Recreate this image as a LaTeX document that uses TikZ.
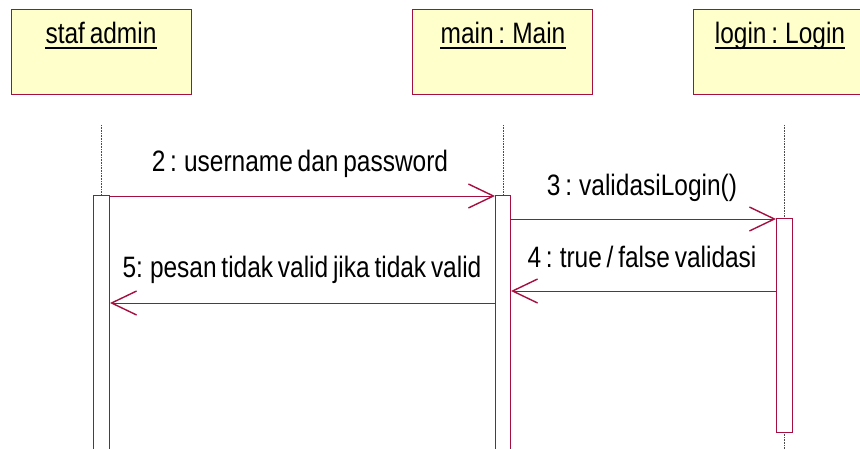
\documentclass[tikz,border=0pt]{standalone}
\usepackage{fontspec}
\setmainfont[FakeStretch=0.83, WordSpace=0.7]{Liberation Sans}
\usetikzlibrary{arrows.meta}
\definecolor{umlred}{RGB}{165,16,64}
\definecolor{umlfill}{RGB}{255,255,204}
\tikzset{
  objbox/.style={draw=umlred, fill=umlfill, line width=1pt},
  actbox/.style={draw=umlred, fill=white, line width=1pt},
  lifeline/.style={draw=black!70, line width=0.6pt, dash pattern=on 1pt off 0.6pt},
  msg/.style={draw=umlred, line width=1pt,
    -{Straight Barb[length=25pt, width=24pt, line width=1.4pt]}},
  title/.style={inner sep=0pt, anchor=base, font=\fontsize{29.5}{32}\selectfont},
  msglabel/.style={inner sep=0pt, anchor=base, font=\fontsize{29.5}{32}\selectfont},
}
\begin{document}
\begin{tikzpicture}[x=1pt, y=-1pt]
\useasboundingbox (0,0) rectangle (860,448);
\clip (0,0) rectangle (860,448);

% object heads
\draw[objbox] (11,9) rectangle (191,94);
\draw[objbox] (412,9) rectangle (592,94);
\draw[objbox] (693,9) rectangle (873,94);
\node[title] (tA) at (101,43) {staf admin};
\node[title] (tB) at (503,43) {main : Main};
\node[title] (tC) at (780,43) {login : Login};
\foreach \t in {tA,tB,tC}
  \draw[line width=1.4pt] ([yshift=-5pt]\t.base west) -- ([yshift=-5pt]\t.base east);

% lifelines
\coordinate (lA) at (101,125);
\coordinate (lB) at (503,125);
\coordinate (lC) at (784,125);
\draw[lifeline] (lA) -- (101,460);
\draw[lifeline] (lB) -- (503,460);
\draw[lifeline] (lC) -- (784,460);

% activation bars
\draw[actbox] (93,195) rectangle (109,470);
\draw[actbox] (495,195) rectangle (510,470);
\draw[actbox] (776,218) rectangle (792,432);
\coordinate (aAr2) at (109,196);
\coordinate (aBl2) at (495,196);
\coordinate (aBr3) at (510,219);
\coordinate (aCl3) at (776,219);
\coordinate (aCl4) at (776,291);
\coordinate (aBr4) at (511,291);
\coordinate (aBl5) at (495,303);
\coordinate (aAr5) at (110,303);

% messages
\draw[msg] (aAr2) -- (aBl2);
\draw[msg] (aBr3) -- (aCl3);
\draw[msg] (aCl4) -- (aBr4);
\draw[msg] (aBl5) -- (aAr5);

\node[msglabel] (m2) at (300,171) {2 : username dan password};
\node[msglabel] (m3) at (642,195) {3 : validasiLogin()};
\node[msglabel] (m4) at (642,267) {4 : true / false validasi};
\node[msglabel] (m5) at (302,277) {5: pesan tidak valid jika tidak valid};
\end{tikzpicture}
\end{document}
